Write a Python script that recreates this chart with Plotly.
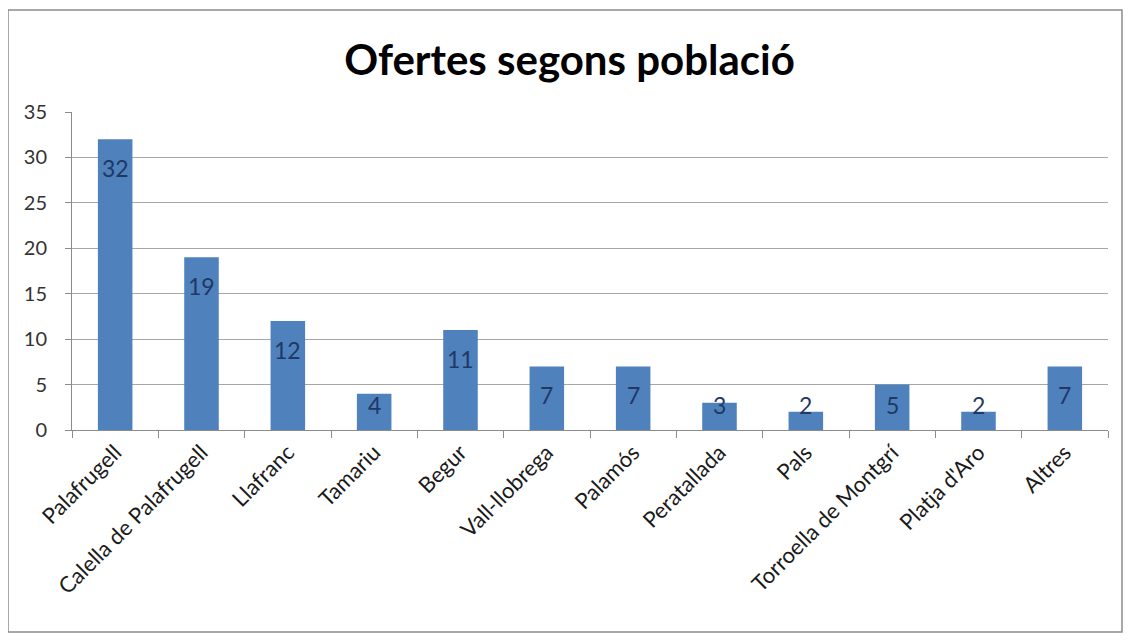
import numpy as np
import plotly.graph_objects as go

categories = ["Palafrugell", "Calella de Palafrugell", "Llafranc", "Tamariu", "Begur",
              "Vall-llobrega", "Palamós", "Peratallada", "Pals", "Torroella de Montgrí",
              "Platja d'Aro", "Altres"]
values = [32, 19, 12, 4, 11, 7, 7, 3, 2, 5, 2, 7]
y_ticks = [0, 5, 10, 15, 20, 25, 30, 35]

FONT = "Lato"
vals = np.array(values, dtype=float)
label_y = np.maximum(vals - 3.2, 2.75)

# page has an 8px body margin, so the figure is 8px smaller than the window
W, H = 1123, 633
L, R, T, B = 64, 23, 104, 211
pw, ph = W - L - R, H - T - B

fig = go.Figure()
fig.add_trace(go.Bar(x=categories, y=values, marker=dict(color="#4F81BD", line=dict(width=0)),
                     hoverinfo="x+y"))

for c, v, ly in zip(categories, values, label_y):
    fig.add_annotation(x=c, y=ly, text=str(v), showarrow=False, yanchor="middle",
                       font=dict(family=FONT, size=23, color="#1F3864"))

fig.update_layout(
    width=W, height=H,
    margin=dict(l=L, r=R, t=T, b=B),
    paper_bgcolor="white", plot_bgcolor="white",
    bargap=0.6,
    showlegend=False,
    title=dict(text="<b>Ofertes segons població</b>", x=0.5, xanchor="center",
               y=1 - 52 / H, yanchor="middle",
               font=dict(family=FONT, size=42, color="black")),
    xaxis=dict(tickangle=-45, tickfont=dict(family=FONT, size=22, color="#1a1a1a"),
               showline=True, linecolor="#8c8c8c", linewidth=1,
               ticks="outside", ticklen=7, tickcolor="#8c8c8c", tickson="boundaries",
               showgrid=False),
    yaxis=dict(range=[0, 35], tickvals=y_ticks, tickfont=dict(family=FONT, size=20, color="#333"),
               showline=True, linecolor="#8c8c8c", linewidth=1,
               ticks="outside", ticklen=6, tickcolor="#8c8c8c", ticklabelstandoff=14,
               showgrid=True, gridcolor="#a6a6a6", gridwidth=1, zeroline=False),
    shapes=[dict(type="rect", xref="paper", yref="paper",
                 x0=(0 - L) / pw, x1=(1114 - L) / pw,
                 y0=(H - B - 624) / ph, y1=(H - B - 2) / ph,
                 line=dict(color="#8c8c8c", width=1.5), fillcolor="rgba(0,0,0,0)", layer="below")],
)

fig.write_html("out.html")
